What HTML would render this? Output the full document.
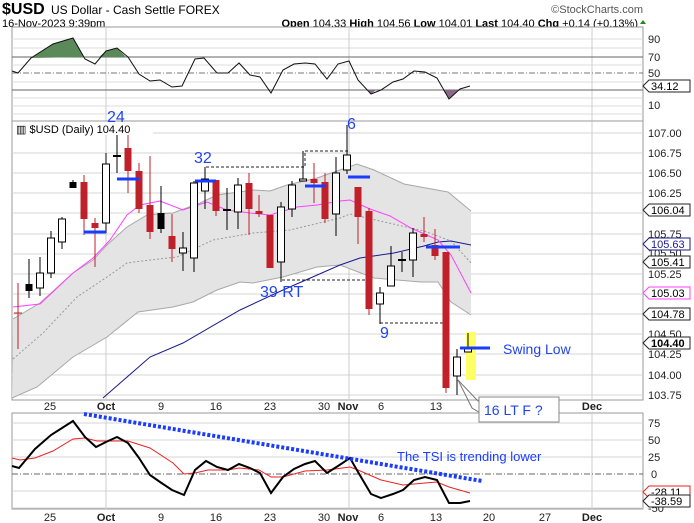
<!DOCTYPE html>
<html><head><meta charset="utf-8"><style>
body{margin:0;background:#fff;}
svg{display:block;font-family:"Liberation Sans",Arial,sans-serif;}
</style></head><body>
<svg width="694" height="523" viewBox="0 0 694 523" xmlns="http://www.w3.org/2000/svg">
<rect width="694" height="523" fill="#fff"/>
<!-- header -->
<text x="2" y="14" font-size="16" font-weight="bold">$USD</text>
<text x="51" y="14" font-size="12">US Dollar - Cash Settle  FOREX</text>
<text x="643" y="13" font-size="11" fill="#555" text-anchor="end">©StockCharts.com</text>
<text x="2" y="27" font-size="11">16-Nov-2023 9:39pm</text>
<text x="638" y="27" font-size="11" text-anchor="end"><tspan font-weight="bold">Open</tspan> 104.33 <tspan font-weight="bold">High</tspan> 104.56 <tspan font-weight="bold">Low</tspan> 104.01 <tspan font-weight="bold">Last</tspan> 104.40 <tspan font-weight="bold">Chg</tspan> +0.14 (+0.13%)</text>
<polygon points="640,24 646,24 643,20" fill="#1a8a1a"/>

<!-- RSI panel -->
<rect x="12" y="27" width="631" height="94" fill="#fff" stroke="#999"/>
<g stroke="#dcdcdc">
<line x1="12" y1="39" x2="643" y2="39"/><line x1="12" y1="48" x2="643" y2="48"/><line x1="12" y1="65" x2="643" y2="65"/><line x1="12" y1="82" x2="643" y2="82"/><line x1="12" y1="98" x2="643" y2="98"/><line x1="12" y1="106" x2="643" y2="106"/><line x1="12" y1="114" x2="643" y2="114"/>
</g>
<g stroke="#ccc"><line x1="106" y1="27" x2="106" y2="121"/><line x1="349" y1="27" x2="349" y2="121"/><line x1="592" y1="27" x2="592" y2="121"/></g>
<line x1="12" y1="57" x2="643" y2="57" stroke="#666"/>
<line x1="12" y1="90" x2="643" y2="90" stroke="#666"/>
<line x1="12" y1="73" x2="643" y2="73" stroke="#777" stroke-dasharray="6,2,1,2"/>
<polygon points="31,58 53,44 73,38 84,57" fill="#5a8a5a"/>
<polygon points="99,57 106,51 117,48 126,57" fill="#5a8a5a"/>
<polygon points="367,90 371,94 376,90" fill="#8a6a8a"/>
<polygon points="443,90 449,99 459,90" fill="#8a6a8a"/>
<polyline fill="none" stroke="#111" stroke-width="1" points="12,71 18,73 31,58 53,44 73,38 85,59 95,64 106,51 117,48 128,57 139,74 150,81 160,80 172,87 182,86 195,59 204,58 217,73 228,73 239,63 250,75 260,77 271,93 283,70 294,64 305,63 315,64 327,79 338,64 349,61 358,80 371,94 381,90 393,82 403,79 414,71 425,72 437,78 449,99 460,89 470,86"/>
<g font-size="11" fill="#222"><text x="648" y="43">90</text><text x="648" y="61">70</text><text x="648" y="77">50</text><text x="648" y="109">10</text></g>
<polygon points="643,86 649,80 690,80 690,92 649,92" fill="#fff" stroke="#222"/>
<text x="651" y="90" font-size="11">34.12</text>

<!-- main panel -->
<rect x="12" y="121" width="631" height="279" fill="#fff" stroke="#999"/>
<g stroke="#d4d4d4">
<line x1="12" y1="133" x2="643" y2="133"/><line x1="12" y1="153" x2="643" y2="153"/><line x1="12" y1="173" x2="643" y2="173"/><line x1="12" y1="193" x2="643" y2="193"/><line x1="12" y1="213" x2="643" y2="213"/><line x1="12" y1="234" x2="643" y2="234"/><line x1="12" y1="254" x2="643" y2="254"/><line x1="12" y1="274" x2="643" y2="274"/><line x1="12" y1="294" x2="643" y2="294"/><line x1="12" y1="314" x2="643" y2="314"/><line x1="12" y1="334" x2="643" y2="334"/><line x1="12" y1="354" x2="643" y2="354"/><line x1="12" y1="375" x2="643" y2="375"/><line x1="12" y1="395" x2="643" y2="395"/>
</g>
<g stroke="#ccc"><line x1="106" y1="121" x2="106" y2="400"/><line x1="349" y1="121" x2="349" y2="400"/><line x1="592" y1="121" x2="592" y2="400"/></g>
<!-- bollinger -->
<polygon fill="#e4e4e4" stroke="none" points="13,319 40,303 73,273 93,260 107,245 127,227 147,215 173,213 200,203 217,195 253,190 270,191 287,185 317,178 340,170 357,164 374,170 404,184 448,192 471,211 471,315 451,302 438,282 421,282 374,278 340,265 317,267 283,277 253,283 240,282 217,290 193,302 173,307 138,312 107,337 73,357 37,387 12,398 12,400"/>
<polyline fill="none" stroke="#a8a8a8" points="13,319 40,303 73,273 93,260 107,245 127,227 147,215 173,213 200,203 217,195 253,190 270,191 287,185 317,178 340,170 357,164 374,170 404,184 448,192 471,211"/>
<polyline fill="none" stroke="#a8a8a8" points="12,398 37,387 73,357 107,337 138,312 173,307 193,302 217,290 240,282 253,283 283,277 317,267 340,265 374,278 421,282 438,282 451,302 471,315"/>
<polyline fill="none" stroke="#999" stroke-dasharray="2,2" points="13,359 43,333 77,297 107,277 127,263 150,260 177,257 213,240 253,233 290,230 340,218 350,214 380,221 424,231 451,241 471,263"/>
<polyline fill="none" stroke="#1a1a8c" points="103,398 150,357 183,343 240,310 283,290 340,265 360,258 394,253 424,246 438,242 451,241 471,245"/>
<polyline fill="none" stroke="#ff40ff" points="13,307 40,304 73,273 93,258 110,240 127,215 140,205 160,201 183,210 207,202 227,210 250,213 270,215 297,207 317,205 340,201 350,200 370,209 390,216 411,228 438,240 451,255 471,293"/>
<!-- dashed annotations -->
<g stroke="#222" stroke-dasharray="3,2" fill="none">
<polyline points="205,181 205,167 305,167 305,151 348,151"/>
<line x1="282" y1="280" x2="371" y2="280"/>
<line x1="380" y1="323" x2="450" y2="323"/>
</g>
<rect x="466" y="332" width="10" height="48" fill="#ffff66"/>
<!-- candles -->
<g stroke-width="1">
<g stroke="#c0202a"><line x1="18" y1="283" x2="18" y2="349"/><line x1="14" y1="313" x2="22" y2="313"/></g>
<line x1="29" y1="259" x2="29" y2="298" stroke="#000"/><rect x="25.5" y="284" width="7" height="7" fill="#000"/>
<line x1="40" y1="257" x2="40" y2="296" stroke="#000"/><rect x="36.5" y="273" width="7" height="15" fill="#fff" stroke="#000"/>
<line x1="51" y1="231" x2="51" y2="278" stroke="#000"/><rect x="47.5" y="238" width="7" height="35" fill="#fff" stroke="#000"/>
<line x1="62" y1="217" x2="62" y2="249" stroke="#000"/><rect x="58.5" y="219" width="7" height="23" fill="#fff" stroke="#000"/>
<line x1="73" y1="180" x2="73" y2="188" stroke="#000"/><rect x="69.5" y="182" width="7" height="6" fill="#000"/>
<line x1="84" y1="175" x2="84" y2="235" stroke="#c0202a"/><rect x="80.5" y="182" width="7" height="37" fill="#c0202a"/>
<line x1="95" y1="218" x2="95" y2="267" stroke="#c0202a"/><rect x="91.5" y="223" width="7" height="5" fill="#c0202a"/>
<line x1="106" y1="153" x2="106" y2="233" stroke="#000"/><rect x="102.5" y="164" width="7" height="59" fill="#fff" stroke="#000"/>
<g stroke="#000"><line x1="117" y1="134" x2="117" y2="173"/><line x1="113" y1="156" x2="121" y2="156" stroke-width="2"/></g>
<line x1="128" y1="135" x2="128" y2="193" stroke="#c0202a"/><rect x="124.5" y="148" width="7" height="23" fill="#c0202a"/>
<line x1="139" y1="163" x2="139" y2="213" stroke="#c0202a"/><rect x="135.5" y="171" width="7" height="38" fill="#c0202a"/>
<line x1="150" y1="156" x2="150" y2="239" stroke="#c0202a"/><rect x="146.5" y="205" width="7" height="27" fill="#c0202a"/>
<line x1="161" y1="186" x2="161" y2="233" stroke="#000"/><rect x="157.5" y="213" width="7" height="16" fill="#000"/>
<line x1="172" y1="214" x2="172" y2="262" stroke="#c0202a"/><rect x="168.5" y="236" width="7" height="13" fill="#c0202a"/>
<line x1="183" y1="232" x2="183" y2="271" stroke="#000"/><rect x="179.5" y="248" width="7" height="5" fill="#fff" stroke="#000"/>
<line x1="194" y1="181" x2="194" y2="272" stroke="#000"/><rect x="190.5" y="183" width="7" height="75" fill="#fff" stroke="#000"/>
<line x1="205" y1="167" x2="205" y2="209" stroke="#000"/><rect x="201.5" y="179" width="7" height="12" fill="#fff" stroke="#000"/>
<line x1="216" y1="180" x2="216" y2="216" stroke="#c0202a"/><rect x="212.5" y="180" width="7" height="31" fill="#c0202a"/>
<g stroke="#000"><line x1="227" y1="188" x2="227" y2="230"/><line x1="223" y1="210" x2="231" y2="210" stroke-width="2"/></g>
<line x1="238" y1="178" x2="238" y2="229" stroke="#000"/><rect x="234.5" y="185" width="7" height="27" fill="#fff" stroke="#000"/>
<line x1="249" y1="173" x2="249" y2="235" stroke="#c0202a"/><rect x="245.5" y="183" width="7" height="26" fill="#c0202a"/>
<line x1="259" y1="195" x2="259" y2="217" stroke="#c0202a"/><rect x="255.5" y="211" width="7" height="3" fill="#c0202a"/>
<rect x="266.5" y="215" width="7" height="53" fill="#c0202a"/>
<line x1="281" y1="202" x2="281" y2="282" stroke="#000"/><rect x="277.5" y="207" width="7" height="55" fill="#fff" stroke="#000"/>
<line x1="292" y1="181" x2="292" y2="217" stroke="#000"/><rect x="288.5" y="185" width="7" height="24" fill="#fff" stroke="#000"/>
<line x1="303" y1="151" x2="303" y2="181" stroke="#000"/><rect x="299.5" y="179" width="7" height="2" fill="#fff" stroke="#000"/>
<line x1="314" y1="163" x2="314" y2="203" stroke="#c0202a"/><rect x="310.5" y="179" width="7" height="4" fill="#c0202a"/>
<line x1="325" y1="173" x2="325" y2="223" stroke="#c0202a"/><rect x="321.5" y="182" width="7" height="37" fill="#c0202a"/>
<line x1="336" y1="157" x2="336" y2="236" stroke="#000"/><rect x="332.5" y="173" width="7" height="41" fill="#fff" stroke="#000"/>
<line x1="347" y1="125" x2="347" y2="174" stroke="#000"/><rect x="343.5" y="155" width="7" height="15" fill="#fff" stroke="#000"/>
<line x1="358" y1="187" x2="358" y2="244" stroke="#c0202a"/><rect x="354.5" y="187" width="7" height="30" fill="#c0202a"/>
<line x1="369" y1="208" x2="369" y2="315" stroke="#c0202a"/><rect x="365.5" y="211" width="7" height="98" fill="#c0202a"/>
<line x1="380" y1="287" x2="380" y2="324" stroke="#000"/><rect x="376.5" y="293" width="7" height="11" fill="#fff" stroke="#000"/>
<line x1="391" y1="246" x2="391" y2="286" stroke="#000"/><rect x="387.5" y="266" width="7" height="20" fill="#fff" stroke="#000"/>
<g stroke="#000"><line x1="402" y1="252" x2="402" y2="272"/><line x1="398" y1="260" x2="406" y2="260" stroke-width="2"/></g>
<line x1="413" y1="228" x2="413" y2="277" stroke="#000"/><rect x="409.5" y="233" width="7" height="27" fill="#fff" stroke="#000"/>
<line x1="424" y1="217" x2="424" y2="242" stroke="#c0202a"/><rect x="420.5" y="234" width="7" height="3" fill="#c0202a"/>
<line x1="435" y1="229" x2="435" y2="260" stroke="#c0202a"/><rect x="431.5" y="245" width="7" height="11" fill="#c0202a"/>
<line x1="446" y1="252" x2="446" y2="393" stroke="#c0202a"/><rect x="442.5" y="252" width="7" height="136" fill="#c0202a"/>
<line x1="457" y1="349" x2="457" y2="395" stroke="#000"/><rect x="453.5" y="357" width="7" height="19" fill="#fff" stroke="#000"/>
<line x1="468" y1="333" x2="468" y2="352" stroke="#000"/><rect x="464.5" y="347" width="7" height="5" fill="#fff" stroke="#000"/>
</g>
<!-- blue marks -->
<g stroke="#1a3cff" stroke-width="3">
<line x1="84" y1="232" x2="106" y2="232"/><line x1="117" y1="179" x2="139" y2="179"/><line x1="195" y1="181" x2="216" y2="181"/><line x1="305" y1="186" x2="326" y2="186"/><line x1="348" y1="177" x2="370" y2="177"/><line x1="426" y1="247" x2="460" y2="247"/><line x1="460" y1="348" x2="490" y2="348"/>
</g>
<g fill="#2244ee" font-size="16">
<text x="107" y="122">24</text><text x="194" y="163">32</text><text x="347" y="129">6</text><text x="260" y="297">39 RT</text><text x="380" y="338">9</text>
<text x="503" y="354" font-size="14">Swing Low</text>
</g>
<rect x="13" y="122" width="140" height="13" fill="#fff"/>
<text x="16" y="133" font-size="11">▥ $USD (Daily) 104.40</text>
<!-- right axis main -->
<g font-size="11" fill="#222">
<text x="648" y="137">107.00</text><text x="648" y="157">106.75</text><text x="648" y="177">106.50</text><text x="648" y="197">106.25</text><text x="648" y="238">105.75</text><text x="648" y="257">105.50</text><text x="648" y="278">105.25</text><text x="648" y="338">104.50</text><text x="648" y="358">104.25</text><text x="648" y="379">104.00</text><text x="648" y="399">103.75</text>
</g>
<g font-size="11">
<polygon points="643,210 649,204 690,204 690,216 649,216" fill="#fff" stroke="#222"/><text x="651" y="214">106.04</text>
<polygon points="643,244 649,238 690,238 690,250 649,250" fill="#fff" stroke="#1a1a8c"/><text x="651" y="248" fill="#1a1a8c">105.63</text>
<polygon points="643,262 649,256 690,256 690,268 649,268" fill="#fff" stroke="#222"/><text x="651" y="266">105.41</text>
<polygon points="643,293 649,287 690,287 690,299 649,299" fill="#fff" stroke="#ff40ff"/><text x="651" y="297">105.03</text>
<polygon points="643,314 649,308 690,308 690,320 649,320" fill="#fff" stroke="#222"/><text x="651" y="318">104.78</text>
<polygon points="643,343 649,337 690,337 690,349 649,349" fill="#fff" stroke="#222"/><text x="651" y="347" font-weight="bold">104.40</text>
</g>
<!-- x labels main -->
<g font-size="11" fill="#222" text-anchor="middle">
<text x="50" y="410">25</text><text x="106" y="410" font-weight="bold">Oct</text><text x="161" y="410">9</text><text x="216" y="410">16</text><text x="270" y="410">23</text><text x="324" y="410">30</text><text x="348" y="410" font-weight="bold">Nov</text><text x="381" y="410">6</text><text x="436" y="410">13</text><text x="592" y="410" font-weight="bold">Dec</text>
</g>

<!-- TSI panel -->
<rect x="12" y="413" width="631" height="96" fill="#fff" stroke="#999"/>
<g stroke="#d4d4d4"><line x1="12" y1="423" x2="643" y2="423"/><line x1="12" y1="440" x2="643" y2="440"/><line x1="12" y1="457" x2="643" y2="457"/><line x1="12" y1="491" x2="643" y2="491"/><line x1="12" y1="508" x2="643" y2="508"/></g>
<g stroke="#ccc"><line x1="106" y1="413" x2="106" y2="509"/><line x1="349" y1="413" x2="349" y2="509"/><line x1="592" y1="413" x2="592" y2="509"/></g>
<line x1="12" y1="474" x2="643" y2="474" stroke="#666" stroke-dasharray="6,2,1,2"/>
<polyline fill="none" stroke="#ee2222" points="12,458 20,460 35,458 53,451 73,439 85,438 97,441 128,441 150,448 173,463 184,474 195,473 208,470 228,470 239,468 259,470 271,477 283,477 305,471 327,470 350,467 358,470 381,480 403,485 425,483 437,482 449,487 470,493"/>
<polyline fill="none" stroke="#000" stroke-width="2" points="12,466 19,468 35,449 51,435 73,421 85,437 96,447 106,442 117,437 128,443 139,458 150,475 160,482 172,490 184,495 195,470 206,461 217,467 228,470 239,464 250,468 260,473 271,493 283,477 294,469 305,464 315,461 327,473 338,466 350,458 358,472 371,494 381,498 393,494 403,490 414,480 425,477 437,480 449,503 460,503 470,501"/>
<line x1="84" y1="414" x2="482" y2="481" stroke="#1a3cff" stroke-width="4" stroke-dasharray="3,2"/>
<text x="397" y="461" font-size="13" fill="#1a3cff">The TSI is trending lower</text>
<g font-size="11" fill="#222"><text x="648" y="427">75</text><text x="648" y="444">50</text><text x="648" y="461">25</text><text x="651" y="478">0</text><text x="648" y="512">-50</text></g>
<polygon points="643,492 649,486 690,486 690,498 649,498" fill="#fff" stroke="#ee2222"/><text x="651" y="496" font-size="11">-28.11</text>
<polygon points="643,501 649,495 690,495 690,507 649,507" fill="#fff" stroke="#222"/><text x="651" y="505" font-size="11">-38.59</text>
<g font-size="11" fill="#222" text-anchor="middle">
<text x="50" y="521">25</text><text x="106" y="521" font-weight="bold">Oct</text><text x="161" y="521">9</text><text x="216" y="521">16</text><text x="270" y="521">23</text><text x="324" y="521">30</text><text x="348" y="521" font-weight="bold">Nov</text><text x="381" y="521">6</text><text x="436" y="521">13</text><text x="489" y="521">20</text><text x="545" y="521">27</text><text x="592" y="521" font-weight="bold">Dec</text>
</g>

<!-- callout box -->
<polyline points="458,380 477,400 482,404" fill="none" stroke="#777"/>
<polyline points="458,380 472,408 482,414" fill="none" stroke="#777"/>
<rect x="479" y="397" width="80" height="25" fill="#fff" stroke="#888"/>
<text x="484" y="415" font-size="14" fill="#2244ee">16 LT F ?</text>
</svg>
</body></html>
